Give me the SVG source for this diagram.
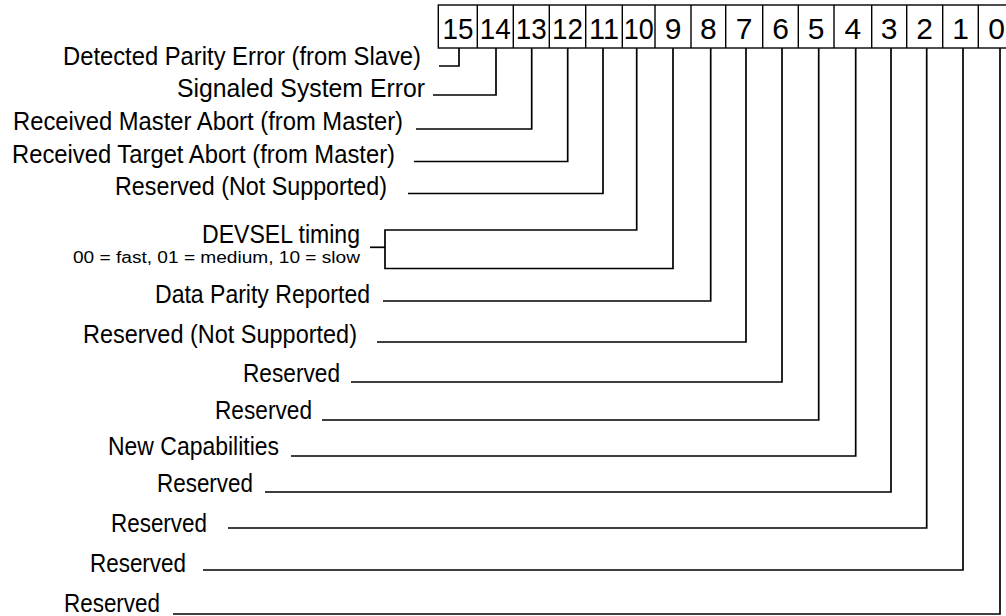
<svg xmlns="http://www.w3.org/2000/svg" width="1006" height="616" viewBox="0 0 1006 616">
<style>
.lbl{font-family:"Liberation Sans",Arial,sans-serif;font-size:25px;fill:#000}
.sm{font-family:"Liberation Sans",Arial,sans-serif;font-size:16px;fill:#000}
.num{font-family:"Liberation Sans",Arial,sans-serif;font-size:30px;fill:#000;text-anchor:middle}
.box{fill:#fff;stroke:#000;stroke-width:1.4}
.div{stroke:#000;stroke-width:1.4}
.con{fill:none;stroke:#000;stroke-width:1.7}
</style>
<rect width="1006" height="616" fill="#fff"/>
<g id="register">
<rect class="box" x="438.3" y="5" width="576" height="43"/>
<path class="div" d="M477.3,5V48M513.3,5V48M549.3,5V48M585.7,5V48M622.3,5V48M655,5V48M691,5V48M725.7,5V48M762.7,5V48M798.3,5V48M834,5V48M871.7,5V48M906.7,5V48M942.7,5V48M978.3,5V48"/>
<text class="num" x="458" y="39" textLength="31" lengthAdjust="spacingAndGlyphs">15</text>
<text class="num" x="495.3" y="39" textLength="31" lengthAdjust="spacingAndGlyphs">14</text>
<text class="num" x="531.3" y="39" textLength="31" lengthAdjust="spacingAndGlyphs">13</text>
<text class="num" x="567.5" y="39" textLength="31" lengthAdjust="spacingAndGlyphs">12</text>
<text class="num" x="604" y="39" textLength="30" lengthAdjust="spacingAndGlyphs">11</text>
<text class="num" x="638.7" y="39" textLength="30" lengthAdjust="spacingAndGlyphs">10</text>
<text class="num" x="673" y="39">9</text>
<text class="num" x="708.3" y="39">8</text>
<text class="num" x="744.2" y="39">7</text>
<text class="num" x="780.5" y="39">6</text>
<text class="num" x="816.2" y="39">5</text>
<text class="num" x="852.8" y="39">4</text>
<text class="num" x="889.2" y="39">3</text>
<text class="num" x="924.7" y="39">2</text>
<text class="num" x="960.5" y="39">1</text>
<text class="num" x="996.5" y="39">0</text>
</g>
<g id="connectors">
<path class="con" d="M459,48V66H439"/>
<path class="con" d="M496,48V95H433"/>
<path class="con" d="M531.7,48V129H416"/>
<path class="con" d="M567.7,48V161.5H414"/>
<path class="con" d="M603,48V193.5H408"/>
<path class="con" d="M636.7,48V230H385V268.5H673V48"/>
<path class="con" d="M370,247.3H385"/>
<path class="con" d="M710.7,48V301H383"/>
<path class="con" d="M746,48V342H377"/>
<path class="con" d="M782,48V382H351"/>
<path class="con" d="M818.7,48V420H322"/>
<path class="con" d="M855.7,48V456H291"/>
<path class="con" d="M891,48V492H265"/>
<path class="con" d="M926.7,48V528H228"/>
<path class="con" d="M963,48V570H203"/>
<path class="con" d="M1000,48V614H173"/>
</g>
<g id="bit15"><text class="lbl" x="63" y="65" textLength="358" lengthAdjust="spacingAndGlyphs">Detected Parity Error (from Slave)</text></g>
<g id="bit14"><text class="lbl" x="177" y="97" textLength="248" lengthAdjust="spacingAndGlyphs">Signaled System Error</text></g>
<g id="bit13"><text class="lbl" x="13" y="130" textLength="390" lengthAdjust="spacingAndGlyphs">Received Master Abort (from Master)</text></g>
<g id="bit12"><text class="lbl" x="12" y="163" textLength="383" lengthAdjust="spacingAndGlyphs">Received Target Abort (from Master)</text></g>
<g id="bit11"><text class="lbl" x="115" y="195" textLength="272" lengthAdjust="spacingAndGlyphs">Reserved (Not Supported)</text></g>
<g id="bit10-9">
<text class="lbl" x="202" y="243" textLength="158" lengthAdjust="spacingAndGlyphs">DEVSEL timing</text>
<text class="sm" x="73" y="263" textLength="287" lengthAdjust="spacingAndGlyphs">00 = fast, 01 = medium, 10 = slow</text>
</g>
<g id="bit8"><text class="lbl" x="155" y="303" textLength="215" lengthAdjust="spacingAndGlyphs">Data Parity Reported</text></g>
<g id="bit7"><text class="lbl" x="83" y="343" textLength="274" lengthAdjust="spacingAndGlyphs">Reserved (Not Supported)</text></g>
<g id="bit6"><text class="lbl" x="243" y="382" textLength="97" lengthAdjust="spacingAndGlyphs">Reserved</text></g>
<g id="bit5"><text class="lbl" x="215" y="419" textLength="97" lengthAdjust="spacingAndGlyphs">Reserved</text></g>
<g id="bit4"><text class="lbl" x="108" y="455" textLength="171" lengthAdjust="spacingAndGlyphs">New Capabilities</text></g>
<g id="bit3"><text class="lbl" x="157" y="492" textLength="96" lengthAdjust="spacingAndGlyphs">Reserved</text></g>
<g id="bit2"><text class="lbl" x="111" y="532" textLength="96" lengthAdjust="spacingAndGlyphs">Reserved</text></g>
<g id="bit1"><text class="lbl" x="90" y="572" textLength="96" lengthAdjust="spacingAndGlyphs">Reserved</text></g>
<g id="bit0"><text class="lbl" x="64" y="612" textLength="96" lengthAdjust="spacingAndGlyphs">Reserved</text></g>
</svg>
